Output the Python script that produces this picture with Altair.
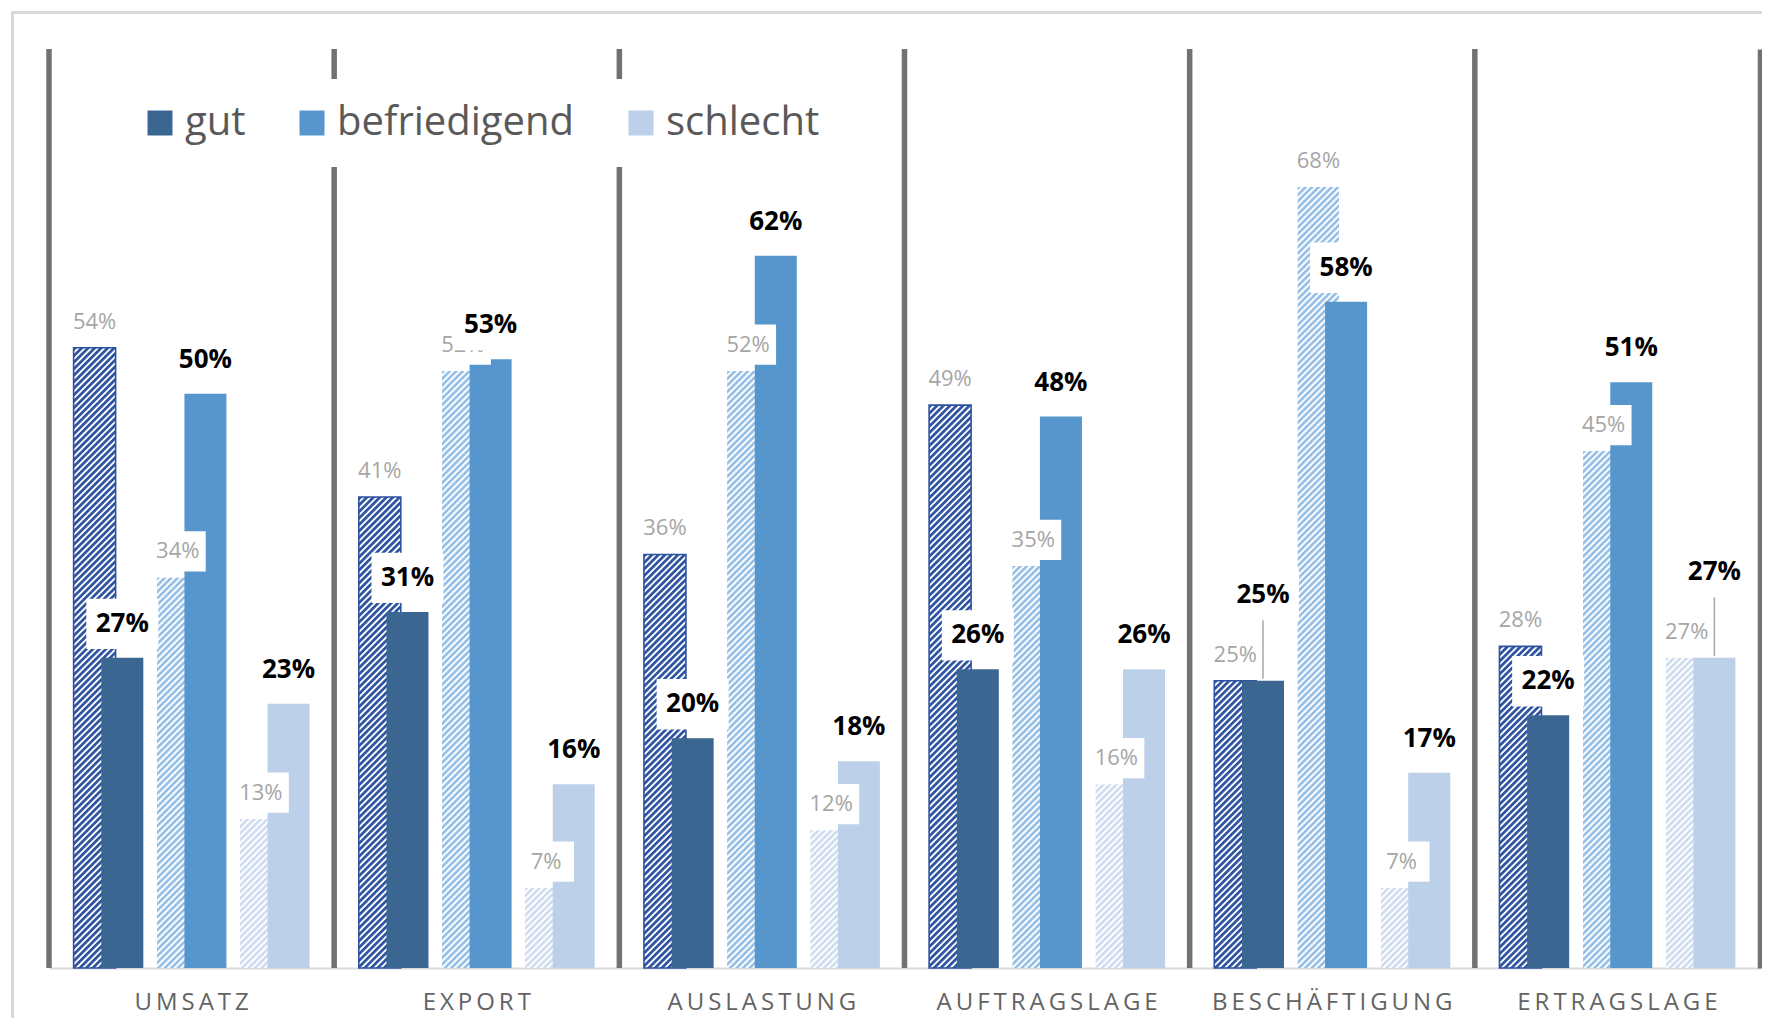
import base64
import altair as alt
import pandas as pd

# ---------------- data ----------------
categories = ["UMSATZ", "EXPORT", "AUSLASTUNG", "AUFTRAGSLAGE", "BESCHÄFTIGUNG", "ERTRAGSLAGE"]
series = ["gut", "befriedigend", "schlecht"]

# previous survey (hatched bars), percent
prev_gut = [54, 41, 36, 49, 25, 28]
prev_befriedigend = [34, 52, 52, 35, 68, 45]
prev_schlecht = [13, 7, 12, 16, 7, 27]

# current survey (solid bars), percent
cur_gut = [27, 31, 20, 26, 25, 22]
cur_befriedigend = [50, 53, 62, 48, 58, 51]
cur_schlecht = [23, 16, 18, 26, 17, 27]

prev_values = {"gut": prev_gut, "befriedigend": prev_befriedigend, "schlecht": prev_schlecht}
cur_values = {"gut": cur_gut, "befriedigend": cur_befriedigend, "schlecht": cur_schlecht}

rows = []
for i, cat in enumerate(categories):
    for s in series:
        rows.append({"category": cat, "series": s, "prev": prev_values[s][i], "cur": cur_values[s][i]})
df = pd.DataFrame(rows)

# ---------------- styles ----------------
SOLID = ["#3b6691", "#5796cd", "#bdd0e9"]
HATCH = {"gut": "#2c52a0", "befriedigend": "#98c0e6", "schlecht": "#d0ddf1"}
SEP = "#767171"
FONT = "Open Sans"
W, H = 1711, 919
BAR_W = 42


def hatch_uri(color):
    svg = (
        "<svg xmlns='http://www.w3.org/2000/svg' width='100%' height='100%'>"
        "<defs><pattern id='p' width='4.6' height='4.6' patternUnits='userSpaceOnUse' "
        "patternTransform='rotate(45)'>"
        f"<rect x='0' y='0' width='2.7' height='4.6' fill='{color}'/></pattern></defs>"
        "<rect width='100%' height='100%' fill='white'/>"
        "<rect width='100%' height='100%' fill='url(#p)'/></svg>"
    )
    return "data:image/svg+xml;base64," + base64.b64encode(svg.encode()).decode()


url_expr = (
    f"datum.series === 'gut' ? '{hatch_uri(HATCH['gut'])}' : "
    f"datum.series === 'befriedigend' ? '{hatch_uri(HATCH['befriedigend'])}' : "
    f"'{hatch_uri(HATCH['schlecht'])}'"
)

slot_domain = ["gap0", "gut|prev", "gut|cur", "gap1", "befriedigend|prev", "befriedigend|cur",
               "gap2", "schlecht|prev", "schlecht|cur", "gap3"]

x_axis = alt.Axis(
    title=None, domainColor="#d9d9d9", domainWidth=2, ticks=False, tickSize=0, grid=False,
    labelAngle=0, labelFont=FONT, labelFontSize=24, labelColor="#636363",
    labelPadding=34, labelBaseline="middle", labelLimit=400,
    labelExpr="join(split(datum.label, ''), '\u2009')",
)
x_scale = alt.Scale(paddingInner=0, paddingOuter=0)
x_enc = alt.X("category:N", sort=categories, scale=x_scale, axis=x_axis, title=None)
off_scale = alt.Scale(domain=slot_domain, paddingInner=0, paddingOuter=0.146)
y_scale = alt.Scale(domain=[0, 80], nice=False, zero=True)
y_axis = alt.Axis(orient="right", title=None, labels=False, ticks=False, grid=False,
                  domainColor=SEP, domainWidth=5.5)


def yq(field):
    return alt.Y(f"{field}:Q", scale=y_scale, axis=y_axis, stack=None, title=None)


base = alt.Chart(df).transform_calculate(
    slot_prev="datum.series + '|prev'",
    slot_cur="datum.series + '|cur'",
    lift="datum.cur === datum.prev ? 4.5 : 0",
    label_pos="datum.cur + (datum.cur === datum.prev ? 4.5 : 0)",
    lbl_prev="datum.prev + '%'",
    lbl_cur="datum.cur + '%'",
)

xo_prev = alt.XOffset("slot_prev:N", scale=off_scale, title=None)
xo_cur = alt.XOffset("slot_cur:N", scale=off_scale, title=None)

# outer frame of the picture
frame_df = pd.DataFrame({"frame": [0]})
frame_v = alt.Chart(frame_df).mark_rule(color="#d9d9d9", strokeWidth=3).encode(
    x=alt.value(-36.5), y=alt.value(-36.5), y2=alt.value(H + 80))
frame_h = alt.Chart(frame_df).mark_rule(color="#d9d9d9", strokeWidth=3).encode(
    y=alt.value(-36.5), x=alt.value(-38), x2=alt.value(W + 30))

# separators at the category boundaries
sep = base.transform_filter("datum.series === 'gut'").mark_rule(
    color=SEP, strokeWidth=5.5, opacity=1).encode(
    x=alt.X("category:N", sort=categories, scale=x_scale, axis=x_axis, bandPosition=0, title=None))

hatched = base.transform_calculate(pattern=url_expr).mark_image(
    width=BAR_W, aspect=False, opacity=1).encode(
    x=x_enc, xOffset=xo_prev, y=yq("prev"), y2=alt.datum(0), url="pattern:N")

outline = base.transform_filter("datum.series === 'gut'").mark_bar(
    width=BAR_W, fillOpacity=0, stroke=HATCH["gut"], strokeWidth=1.6, opacity=1).encode(
    x=x_enc, xOffset=xo_prev, y=yq("prev"), y2=alt.datum(0))

solid = base.mark_bar(width=BAR_W, opacity=1).encode(
    x=x_enc, xOffset=xo_cur, y=yq("cur"), y2=alt.datum(0),
    color=alt.Color("series:N", sort=series,
                    scale=alt.Scale(domain=series, range=SOLID),
                    legend=alt.Legend(
                        orient="none", legendX=67, legendY=30, direction="horizontal",
                        title=None, symbolType="square", symbolSize=625, symbolStrokeWidth=0,
                        labelFont=FONT, labelFontSize=40, labelColor="#595959",
                        labelLimit=400, labelOffset=5, columnPadding=46,
                        padding=24, fillColor="white")))

gray_box = base.mark_point(
    shape="M-1,-0.72H1V0.72H-1Z", size=56 * 56, filled=True, fill="white",
    color="white", opacity=1, fillOpacity=1, strokeWidth=0, yOffset=-26).encode(
    x=x_enc, xOffset=xo_prev, y=yq("prev"))

gray_text = base.mark_text(
    font=FONT, fontSize=22, color="#a6a6a6", baseline="middle", align="center",
    yOffset=-26, opacity=1).encode(
    x=x_enc, xOffset=xo_prev, y=yq("prev"), text="lbl_prev:N")

leader = base.transform_filter("datum.lift > 0").mark_rule(
    color="#a6a6a6", strokeWidth=1.5, yOffset=-34, y2Offset=-2, opacity=1).encode(
    x=x_enc, xOffset=xo_cur, y=yq("label_pos"), y2="cur:Q")

bold_box = base.mark_point(
    shape="M-1,-0.7H1V0.7H-1Z", size=72 * 72, filled=True, fill="white",
    color="white", opacity=1, fillOpacity=1, strokeWidth=0, yOffset=-34).encode(
    x=x_enc, xOffset=xo_cur, y=yq("label_pos"))

bold_text = base.mark_text(
    font=FONT, fontSize=26, fontWeight="bold", color="#000000", baseline="middle",
    align="center", yOffset=-34, opacity=1).encode(
    x=x_enc, xOffset=xo_cur, y=yq("label_pos"), text="lbl_cur:N")

chart = alt.layer(
    frame_v, frame_h, sep, hatched, outline, solid,
    gray_box, gray_text, leader, bold_box, bold_text,
).properties(
    width=W, height=H,
    padding={"left": 41, "top": 41, "right": 2, "bottom": 50},
    autosize=alt.AutoSizeParams(type="none"),
    background="white",
).configure(font=FONT).configure_view(stroke="transparent", strokeWidth=0)

chart.save("out.html", embed_options={"renderer": "svg", "actions": False})
